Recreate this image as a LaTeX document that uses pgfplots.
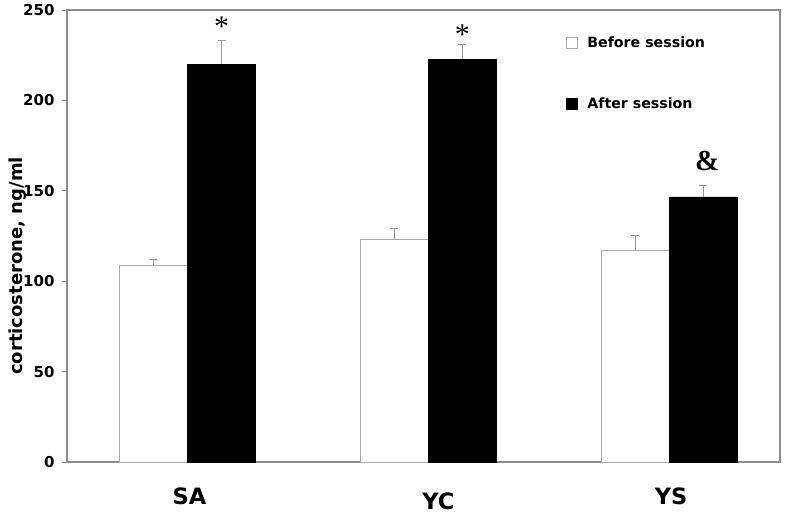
\documentclass[border=0pt]{standalone}
\usepackage{fontspec}
\setmainfont{DejaVu Sans}
\newfontfamily\seriffont{Liberation Serif}
\usepackage{pgfplots}
\pgfplotsset{compat=1.18}
\definecolor{axgray}{RGB}{140,140,140}
\definecolor{bargray}{RGB}{170,170,170}
\definecolor{errgray}{RGB}{150,150,150}
\pgfplotsset{sqlegend/.style={legend image code/.code={\draw[##1] (0pt,-5.5pt) rectangle (11pt,5.5pt);}}}

\begin{document}
\begin{tikzpicture}
\begin{axis}[
  width=713pt, height=452pt, scale only axis,
  ybar=0pt, bar width=0.283,
  xmin=-0.5, xmax=2.46,
  ymin=0, ymax=250,
  ytick={0,50,...,250},
  xtick={0,1,2},
  xticklabels={SA,{\raisebox{-6pt}[16.4pt][0pt]{\hspace*{16pt}YC}},YS},
  /pgf/number format/assume math mode=true,
  yticklabel style={font=\fontsize{15}{17}\selectfont\bfseries, xshift=-4pt},
  xticklabel style={font=\fontsize{22.5}{26}\selectfont\bfseries, yshift=-17pt, xshift=2pt},
  ylabel={corticosterone, ng/ml},
  ylabel style={font=\fontsize{18}{20}\selectfont\bfseries,
                at={(axis description cs:-0.069,0.434)}, anchor=center},
  axis line style={draw=axgray, line width=1.5pt},
  tick align=outside, ytick pos=left,
  major tick length=5pt,
  ytick style={draw=axgray, line width=0.8pt},
  xtick style={draw=none},
  legend style={at={(rel axis cs:0.695,0.95)}, anchor=north west,
                draw=none, fill=none, row sep=45pt,
                /tikz/every odd column/.append style={column sep=8pt},
                font=\fontsize{14.2}{16}\selectfont\bfseries},
  legend cell align=left,
  clip=false,
]
\addplot[fill=white, draw=bargray, line width=0.6pt, sqlegend,
  error bars/.cd, y dir=plus, y explicit, error mark=|,
  error bar style={draw=errgray, line width=0.8pt},
  error mark options={draw=errgray, mark size=4pt, line width=0.8pt}]
  coordinates {(0,109) +- (0,3) (1,123) +- (0,6.4) (2,117) +- (0,8.6)};
\addplot[fill=black, draw=black, line width=0.6pt, sqlegend,
  error bars/.cd, y dir=plus, y explicit, error mark=|,
  error bar style={draw=errgray, line width=0.8pt},
  error mark options={draw=errgray, mark size=4pt, line width=0.8pt}]
  coordinates {(0,220) +- (0,13.4) (1,222.7) +- (0,8.3) (2,146.6) +- (0,6.6)};
\legend{Before session, After session}
\node[font=\seriffont\fontsize{30}{30}\selectfont] at (axis cs:0.1415,241) {*};
\node[font=\seriffont\fontsize{30}{30}\selectfont] at (axis cs:1.1415,236.5) {*};
\node[font=\seriffont\bfseries\fontsize{29}{29}\selectfont] at (axis cs:2.158,166.5) {\&};
\end{axis}
\pgfresetboundingbox
\path[use as bounding box] ([shift={(-67pt,-54pt)}]current axis.south west)
  rectangle ([shift={(20pt,10pt)}]current axis.north east);
\end{tikzpicture}
\end{document}
